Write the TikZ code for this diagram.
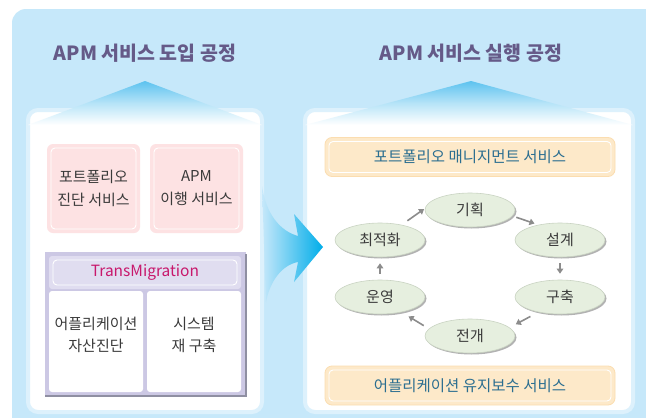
\documentclass[tikz,border=0pt]{standalone}
\usepackage{fontspec}
\setmainfont{Noto Sans CJK KR}
\usetikzlibrary{shapes.geometric,arrows.meta,shadows,calc}
\definecolor{bgblue}{HTML}{C6E8FA}
\definecolor{glow}{HTML}{DDF1FC}
\definecolor{roofblue}{HTML}{5CC2EF}
\definecolor{arrowblue}{HTML}{00ADE9}
\definecolor{titlecol}{HTML}{655A88}
\definecolor{pinkfill}{HTML}{FDE2E3}
\definecolor{orangefill}{HTML}{FDE9C9}
\definecolor{orangeedge}{HTML}{FBDDB0}
\definecolor{tealtext}{HTML}{2B6E90}
\definecolor{lavfill}{HTML}{E0DDF0}
\definecolor{lavframe}{HTML}{CCC8E4}
\definecolor{frameshadow}{HTML}{8F8FA2}
\definecolor{magenta}{HTML}{C8186C}
\definecolor{ellgreen}{HTML}{E6EFDF}
\definecolor{elledge}{HTML}{C9D3C2}
\definecolor{txtgray}{HTML}{3A3A3A}
\definecolor{flowgray}{HTML}{8C8C8C}
\tikzset{
  panel/.style={draw=glow, line width=4pt, fill=white, rounded corners=10pt},
  title/.style={font=\bfseries\fontsize{19.5}{22}\selectfont, text=titlecol},
  insetline/.style={path picture={\draw[white, line width=0.9pt, rounded corners=4pt]
      ([shift={(4pt,4pt)}]path picture bounding box.south west) rectangle
      ([shift={(-4pt,-4pt)}]path picture bounding box.north east);}},
  pinkbox/.style={fill=pinkfill, rounded corners=6pt, minimum width=93pt, minimum height=89pt,
      inner sep=0pt, align=center, text=txtgray, font=\fontsize{15}{23}\selectfont, insetline},
  orangebox/.style={fill=orangefill, draw=orangeedge, line width=0.8pt, rounded corners=7pt,
      minimum width=290pt, minimum height=39pt, inner sep=0pt, text=tealtext,
      font=\fontsize{15.5}{17}\selectfont, insetline},
  cell/.style={fill=white, rounded corners=3pt, minimum width=94pt, minimum height=101pt, inner sep=0pt},
  celltext/.style={align=center, text=txtgray, font=\fontsize{15}{22}\selectfont},
  ell/.style={ellipse, fill=ellgreen, draw=elledge, line width=0.6pt, minimum width=90pt, minimum height=34pt,
      inner sep=0pt, text=txtgray, font=\fontsize{15}{17}\selectfont,
      general shadow={fill=black!30, shadow xshift=1.5pt, shadow yshift=-1.5pt}},
  flow/.style={draw=flowgray, line width=1.6pt, -{Triangle[length=5pt,width=6.5pt]}}
}
\begin{document}
\begin{tikzpicture}[x=1pt,y=-1pt]
\useasboundingbox (0,0) rectangle (646,418);
\fill[white] (0,0) rectangle (646,418);
\fill[bgblue, rounded corners=14pt] (12,9) rectangle (670,440);

% titles
\node[title] (t1) at (145,53) {APM 서비스 도입 공정};
\node[title] (t2) at (471,53) {APM 서비스 실행 공정};

% panels
\draw[panel] (28,110) rectangle (262,412);
\draw[panel] (305,110) rectangle (633,412);

% roofs
\shade[top color=roofblue, bottom color=white, middle color=roofblue!45] (145,81) -- (262,125) -- (28,125) -- cycle;
\shade[top color=roofblue, bottom color=white, middle color=roofblue!45] (471,81) -- (633,125) -- (305,125) -- cycle;

% big arrow
\shade[left color=bgblue, right color=arrowblue]
  (262,186) .. controls (266,214) and (280,231) .. (298,236) -- (294,214) -- (323,247) -- (294,282) -- (298,262)
  .. controls (282,265) and (270,281) .. (266,302) -- cycle;

% left panel content
\node[pinkbox] (pf) at (93.5,188.5) {포트폴리오\\진단 서비스};
\node[pinkbox] (apm) at (196.5,188.5) {APM\\이행 서비스};

\fill[lavframe] (45,252) rectangle (246,396);
\draw[frameshadow, line width=1.2pt] (246,254) -- (246,396) -- (45,396);
\node[fill=lavfill, rounded corners=3pt, minimum width=192pt, minimum height=33pt, inner sep=0pt,
      text=magenta, font=\fontsize{15.5}{17}\selectfont, insetline] (tm) at (145,272.5) {TransMigration};
\node[cell] (c1) at (96,341.5) {};
\node[cell] (c2) at (194,341.5) {};
\node[celltext] (c1t) at (96,335) {어플리케이션\\자산진단};
\node[celltext] (c2t) at (194,335) {시스템\\재 구축};

% right panel content
\node[orangebox] (pm) at (470,157) {포트폴리오 매니지먼트 서비스};
\node[orangebox] (am) at (470,385.5) {어플리케이션 유지보수 서비스};

\node[ell] (plan) at (470,210) {기획};
\node[ell] (design) at (560,240) {설계};
\node[ell] (build) at (560,297) {구축};
\node[ell] (deploy) at (470,336) {전개};
\node[ell] (ops) at (380,297) {운영};
\node[ell] (opt) at (380,240) {최적화};

\draw[flow, shorten <=7pt, shorten >=1pt] (opt.35) -- (plan.178);
\draw[flow, shorten <=4pt, shorten >=4pt] (plan.-8) -- (design.145);
\draw[flow, shorten <=6pt, shorten >=6pt] (design.south) -- (build.north);
\draw[flow, shorten <=9pt, shorten >=7pt] (build.215) -- (deploy.12);
\draw[flow, shorten <=6pt, shorten >=8pt] (deploy.170) -- (ops.325);
\draw[flow, shorten <=6pt, shorten >=6pt] (ops.north) -- (opt.south);
\end{tikzpicture}
\end{document}
